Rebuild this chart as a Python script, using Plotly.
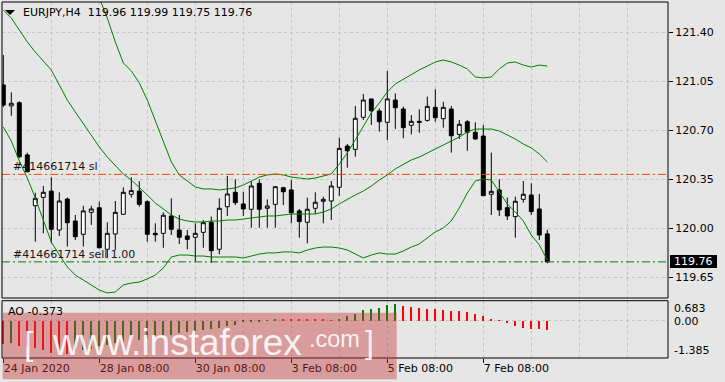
import plotly.graph_objects as go

# ---------------- data ----------------
symbol = "EURJPY,H4"
bar_index = list(range(69))

opens = [121.024, 120.874, 120.897, 120.524, 120.161, 120.221, 120.266, 119.988, 120.209, 120.052,
         119.957, 120.114, 120.147, 119.850, 119.959, 120.100, 120.243, 120.266, 120.190, 119.964,
         119.964, 120.088, 119.988, 119.945, 119.936, 119.971, 120.043, 119.850, 120.154, 120.257,
         120.174, 120.136, 120.321, 120.143, 120.171, 120.290, 120.274, 120.124, 120.043, 120.143,
         120.193, 120.195, 120.293, 120.588, 120.564, 120.793, 120.924, 120.838, 120.757, 120.916,
         120.852, 120.736, 120.764, 120.771, 120.864, 120.783, 120.852, 120.671, 120.761, 120.686,
         120.659, 120.243, 120.274, 120.147, 120.083, 120.207, 120.238, 120.138, 119.96]
highs = [121.238, 120.971, 120.907, 120.540, 120.254, 120.302, 120.364, 120.257, 120.219, 120.095,
         120.161, 120.161, 120.190, 120.043, 120.195, 120.293, 120.364, 120.336, 120.200, 120.036,
         120.114, 120.214, 120.095, 119.988, 120.036, 120.059, 120.083, 120.214, 120.374, 120.350,
         120.261, 120.338, 120.350, 120.207, 120.302, 120.297, 120.345, 120.138, 120.219, 120.257,
         120.226, 120.338, 120.647, 120.602, 120.874, 120.959, 120.926, 120.857, 121.124, 120.964,
         120.869, 120.809, 120.850, 120.940, 120.993, 120.904, 120.874, 120.774, 120.774, 120.757,
         120.738, 120.540, 120.350, 120.219, 120.226, 120.338, 120.321, 120.245, 119.99]
lows = [120.866, 120.804, 120.500, 120.400, 119.904, 119.964, 119.893, 119.945, 119.869, 119.916,
        119.869, 120.024, 119.857, 119.786, 119.845, 120.098, 120.219, 120.154, 119.904, 119.904,
        119.861, 119.952, 119.888, 119.850, 119.766, 119.861, 119.754, 119.814, 120.088, 120.166,
        120.088, 120.004, 120.004, 120.004, 120.004, 120.166, 120.036, 119.933, 119.893, 120.102,
        120.036, 120.059, 120.231, 120.433, 120.511, 120.774, 120.738, 120.690, 120.631, 120.709,
        120.643, 120.671, 120.683, 120.761, 120.761, 120.719, 120.540, 120.638, 120.554, 120.631,
        120.233, 120.095, 120.088, 120.059, 119.933, 120.183, 120.095, 119.916, 119.75]
closes = [120.880, 120.893, 120.511, 120.404, 120.214, 120.257, 119.993, 120.195, 120.040, 119.940,
          120.124, 120.138, 119.861, 119.964, 120.114, 120.257, 120.269, 120.171, 119.957, 119.954,
          120.093, 119.993, 119.936, 119.921, 119.964, 120.040, 119.840, 120.143, 120.245, 120.183,
          120.138, 120.302, 120.136, 120.159, 120.297, 120.261, 120.111, 120.048, 120.136, 120.186,
          120.207, 120.302, 120.571, 120.554, 120.786, 120.916, 120.840, 120.761, 120.924, 120.861,
          120.719, 120.764, 120.757, 120.871, 120.790, 120.864, 120.661, 120.743, 120.686, 120.638,
          120.233, 120.264, 120.131, 120.088, 120.193, 120.243, 120.119, 119.952, 119.76]

bb_upper = [None] * 11 + [
    121.790, 121.645, 121.502, 121.331, 121.181, 121.124, 121.038, 120.916, 120.766, 120.631,
    120.474, 120.381, 120.338, 120.295, 120.281, 120.281, 120.274, 120.281, 120.288, 120.309,
    120.338, 120.366, 120.381, 120.388, 120.381, 120.366, 120.359, 120.352, 120.359, 120.374,
    120.388, 120.459, 120.538, 120.631, 120.724, 120.824, 120.895, 120.974, 121.031, 121.066,
    121.095, 121.131, 121.159, 121.188, 121.202, 121.188, 121.166, 121.138, 121.081, 121.074,
    121.081, 121.138, 121.181, 121.188, 121.166, 121.152, 121.166, 121.159]
bb_middle = [121.559, 121.502, 121.416, 121.331, 121.259, 121.195, 121.131, 121.024, 120.916, 120.831,
             120.745, 120.659, 120.581, 120.509, 120.445, 120.388, 120.345, 120.295, 120.238, 120.181,
             120.138, 120.095, 120.066, 120.052, 120.045, 120.045, 120.052, 120.052, 120.059, 120.059,
             120.066, 120.074, 120.081, 120.088, 120.088, 120.095, 120.102, 120.102, 120.102, 120.102,
             120.116, 120.138, 120.174, 120.209, 120.238, 120.266, 120.302, 120.345, 120.381, 120.424,
             120.459, 120.488, 120.509, 120.538, 120.566, 120.595, 120.624, 120.652, 120.688, 120.709,
             120.709, 120.709, 120.695, 120.666, 120.638, 120.602, 120.574, 120.531, 120.474]
bb_lower = [120.724, 120.624, 120.481, 120.359, 120.216, 120.059, 119.902, 119.809, 119.724, 119.666,
            119.631, 119.595, 119.559, 119.538, 119.545, 119.595, 119.609, 119.616, 119.638, 119.666,
            119.716, 119.795, 119.809, 119.809, 119.802, 119.802, 119.795, 119.795, 119.795, 119.795,
            119.788, 119.802, 119.816, 119.824, 119.824, 119.831, 119.831, 119.824, 119.845, 119.859,
            119.866, 119.866, 119.859, 119.845, 119.816, 119.788, 119.809, 119.824, 119.816, 119.816,
            119.838, 119.866, 119.888, 119.931, 119.974, 120.002, 120.052, 120.145, 120.252, 120.338,
            120.352, 120.345, 120.259, 120.174, 120.116, 120.052, 119.952, 119.881, 119.774]

ao_values = [-0.96, -0.95, -1.07, -1.10, -1.14, -1.21, -1.35, -1.37, -1.385, -1.28,
             -1.21, -1.20, -1.07, -1.00, -0.93, -0.92, -0.86, -0.79, -0.72, -0.65,
             -0.62, -0.58, -0.51, -0.49, -0.44, -0.40, -0.37, -0.31, -0.24, -0.17,
             -0.06, -0.04, -0.02, 0.02, 0.07, 0.06, 0.05, 0.045, 0.04, 0.035,
             0.03, 0.02, 0.06, 0.18, 0.29, 0.43, 0.50, 0.53, 0.64, 0.683,
             0.60, 0.56, 0.53, 0.50, 0.49, 0.43, 0.42, 0.39, 0.36, 0.29,
             0.21, 0.04, -0.01, -0.10, -0.24, -0.31, -0.34, -0.35, -0.373]
ao_max_label = 0.683
ao_min_label = -1.385

order_id = "#414661714"
sl_price = 120.385
entry_price = 119.76

price_ticks = [121.40, 121.05, 120.70, 120.35, 120.00, 119.65]
date_tick_idx = [0, 12, 24, 36, 48, 60]
date_tick_labels = ["24 Jan 2020", "28 Jan 08:00", "30 Jan 08:00", "3 Feb 08:00", "5 Feb 08:00", "7 Feb 08:00"]
grid_idx = [6, 12, 18, 24, 30, 36, 42, 48, 54, 60, 66, 72, 78]

# ---------------- style ----------------
BG = "#E6E6E6"
GRID = "#C4C4C4"
GREEN = "#008000"
FONT = "DejaVu Sans"
WM_FONT = "Liberation Sans"
WM_COLOR = "rgba(255,255,255,0.88)"
W, H = 725, 382
ML, MR, MT, MB = 2, 57, 2, 24
PW, PH = W - ML - MR, H - MT - MB


def px_x(px):
    return (px - ML) / PW


def px_y(py):
    return (H - MB - py) / PH


ao_colors = []
for k, v in enumerate(ao_values):
    if k == 0:
        ao_colors.append("#FF0000")
    else:
        ao_colors.append(GREEN if v >= ao_values[k - 1] else "#FF0000")

fig = go.Figure()
for band in (bb_upper, bb_middle, bb_lower):
    fig.add_trace(go.Scatter(x=bar_index, y=band, mode="lines",
                             line=dict(color=GREEN, width=1), hoverinfo="skip",
                             xaxis="x", yaxis="y"))
fig.add_trace(go.Candlestick(
    x=bar_index, open=opens, high=highs, low=lows, close=closes,
    increasing=dict(line=dict(color="black", width=1), fillcolor="white"),
    decreasing=dict(line=dict(color="black", width=1), fillcolor="black"),
    xaxis="x", yaxis="y"))
fig.add_trace(go.Bar(x=bar_index, y=ao_values, width=0.14,
                     marker=dict(color=ao_colors, line=dict(width=0)),
                     xaxis="x", yaxis="y2"))

k_ao = 24.0
zero_px = 320.3
ao_top, ao_bot = 300.7, 358.0

fig.update_layout(
    width=W, height=H, margin=dict(l=ML, r=MR, t=MT, b=MB),
    paper_bgcolor=BG, plot_bgcolor=BG, showlegend=False,
    font=dict(family=FONT, size=11, color="black"),
    bargap=0,
    xaxis=dict(
        range=[-0.1625, 83.0875], anchor="y2", rangeslider=dict(visible=False),
        tickmode="array", tickvals=date_tick_idx, ticktext=date_tick_labels,
        ticks="outside", ticklen=4, tickcolor="black", tickwidth=1,
        ticklabelposition="outside right",
        tickfont=dict(family=FONT, size=11, color="black"),
        showgrid=False, zeroline=False, showline=False,
        minor=dict(tickmode="array", tickvals=grid_idx, showgrid=True,
                   gridcolor=GRID, griddash="3px,3px", gridwidth=1, ticks=""),
    ),
    yaxis=dict(
        domain=[(H - MB - 298) / PH, 1.0], range=[119.5021, 121.6164],
        side="right", anchor="x",
        tickmode="array", tickvals=price_ticks, ticktext=[f"{v:.2f}" for v in price_ticks],
        ticks="outside", ticklen=4, tickcolor="black",
        tickfont=dict(family=FONT, size=11, color="black"),
        showgrid=True, gridcolor=GRID, griddash="3px,3px", zeroline=False, showline=False,
    ),
    yaxis2=dict(
        domain=[0.0, (H - MB - ao_top) / PH],
        range=[-(ao_bot - zero_px) / k_ao, (zero_px - ao_top) / k_ao],
        side="right", anchor="x",
        tickmode="array", tickvals=[0.0], showticklabels=False, ticks="",
        showgrid=True, gridcolor=GRID, griddash="3px,3px", zeroline=False, showline=False,
    ),
)

dashdot = "8px,3px,2px,3px"
shapes = [
    dict(type="line", xref="x domain", yref="y", x0=0, x1=1, y0=sl_price, y1=sl_price,
         line=dict(color="#FF4500", width=1, dash=dashdot), layer="above"),
    dict(type="line", xref="x domain", yref="y", x0=0, x1=1, y0=entry_price, y1=entry_price,
         line=dict(color=GREEN, width=1, dash=dashdot), layer="above"),
    dict(type="rect", xref="x domain", yref="y domain", x0=0, x1=1, y0=0, y1=1,
         line=dict(color="black", width=1), layer="above"),
    dict(type="rect", xref="x domain", yref="y2 domain", x0=0, x1=1, y0=0, y1=1,
         line=dict(color="black", width=1), layer="above"),
    # symbol menu triangle
    dict(type="path", xref="paper", yref="paper",
         path=f"M {px_x(5)},{px_y(10)} L {px_x(15)},{px_y(10)} L {px_x(10)},{px_y(15)} Z",
         fillcolor="black", line=dict(width=0), layer="above"),
    # current price box
    dict(type="rect", xref="paper", yref="paper", x0=px_x(670), x1=px_x(717),
         y0=px_y(268), y1=px_y(255), fillcolor="black", line=dict(width=0), layer="above"),
    # watermark box
    dict(type="rect", xref="paper", yref="paper", x0=px_x(2.7), x1=px_x(396.7),
         y0=px_y(379.3), y1=px_y(312.7), fillcolor="rgba(200,55,55,0.42)",
         line=dict(width=0), layer="above"),
]

title = f"{symbol}\u00a0\u00a0{opens[-1]:.2f} {highs[-1]:.2f} {lows[-1]:.2f} {closes[-1]:.2f}"
annotations = [
    dict(text=title, xref="paper", yref="paper", x=px_x(20.5), y=px_y(12.7),
         xanchor="left", yanchor="middle", showarrow=False,
         font=dict(family=FONT, size=11, color="black")),
    dict(text=f"{order_id} sl", xref="paper", yref="y", x=px_x(10.5), y=sl_price,
         xanchor="left", yanchor="bottom", yshift=-1, showarrow=False,
         font=dict(family=FONT, size=11, color="#151515")),
    dict(text=f"{order_id} sell 1.00", xref="paper", yref="y", x=px_x(10.5), y=entry_price,
         xanchor="left", yanchor="bottom", yshift=-1, showarrow=False,
         font=dict(family=FONT, size=11, color="#151515")),
    dict(text=f"{closes[-1]:.2f}", xref="paper", yref="paper", x=px_x(693.5), y=px_y(261.5),
         xanchor="center", yanchor="middle", showarrow=False,
         font=dict(family=FONT, size=11, color="white")),
    dict(text=f"AO {ao_values[-1]:.3f}", xref="paper", yref="paper", x=px_x(6.3), y=px_y(311.7),
         xanchor="left", yanchor="middle", showarrow=False,
         font=dict(family=FONT, size=11, color="black")),
    dict(text=f"{ao_max_label:.3f}", xref="paper", yref="paper", x=px_x(671.7), y=px_y(308.0),
         xanchor="left", yanchor="middle", showarrow=False,
         font=dict(family=FONT, size=11, color="black")),
    dict(text="0.00", xref="paper", yref="paper", x=px_x(671.7), y=px_y(321.2),
         xanchor="left", yanchor="middle", showarrow=False,
         font=dict(family=FONT, size=11, color="black")),
    dict(text=f"{ao_min_label:.3f}", xref="paper", yref="paper", x=px_x(671.7), y=px_y(350),
         xanchor="left", yanchor="middle", showarrow=False,
         font=dict(family=FONT, size=11, color="black")),
    # watermark
    dict(text="[", xref="paper", yref="paper", x=px_x(28.5), y=px_y(343),
         xanchor="center", yanchor="middle", showarrow=False,
         font=dict(family=WM_FONT, size=34, color=WM_COLOR)),
    dict(text="www.instaforex", xref="paper", yref="paper", x=px_x(49.5), y=px_y(342),
         xanchor="left", yanchor="middle", showarrow=False,
         font=dict(family=WM_FONT, size=37, color=WM_COLOR)),
    dict(text=".com", xref="paper", yref="paper", x=px_x(306.5), y=px_y(339),
         xanchor="left", yanchor="middle", showarrow=False,
         font=dict(family=WM_FONT, size=23.5, color=WM_COLOR)),
    dict(text="]", xref="paper", yref="paper", x=px_x(369.5), y=px_y(342),
         xanchor="center", yanchor="middle", showarrow=False,
         font=dict(family=WM_FONT, size=32, color=WM_COLOR)),
]

fig.update_layout(shapes=shapes, annotations=annotations)
fig.write_html("out.html")
